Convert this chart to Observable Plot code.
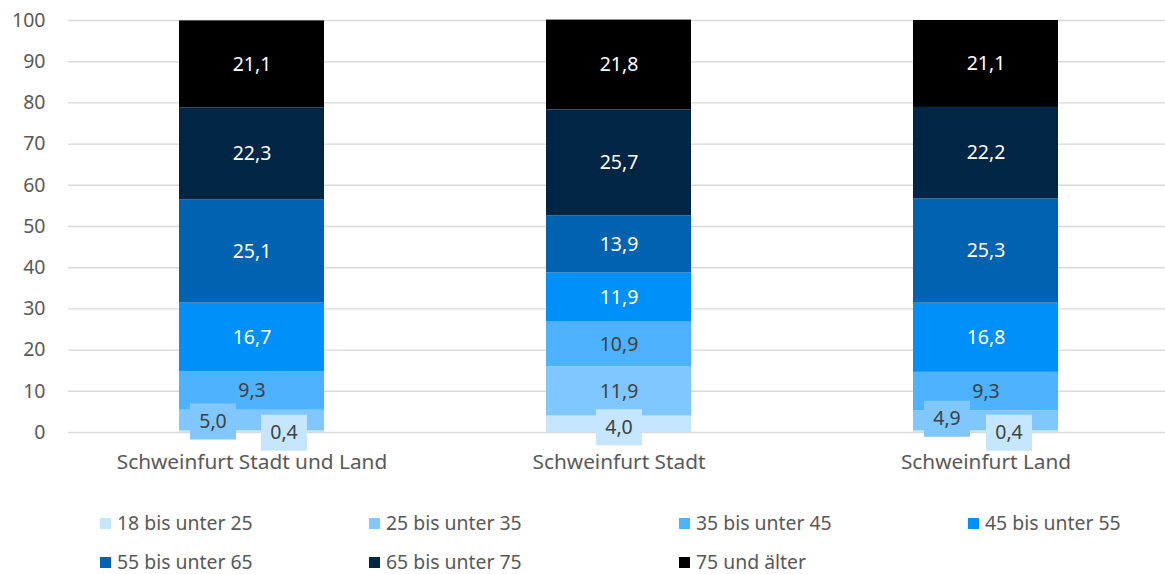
<!DOCTYPE html>
<html><head><meta charset="utf-8">
<script src="https://cdn.jsdelivr.net/npm/d3@7"></script>
<script src="https://cdn.jsdelivr.net/npm/@observablehq/plot@0.6"></script>
<style>
body{margin:0;background:#fff;font-family:"Noto Sans",sans-serif;}
#legend{position:relative;height:84px;width:1165px;}
.item{position:absolute;display:flex;align-items:center;font-size:19.4px;color:#595959;white-space:nowrap;line-height:1;}
.sw{width:11px;height:11px;margin-right:6px;flex:none;}
</style>
</head><body>
<div id="chart"></div>
<div id="legend"></div>
<script>
const categories = ["Schweinfurt Stadt und Land", "Schweinfurt Stadt", "Schweinfurt Land"];
const groups = ["18 bis unter 25", "25 bis unter 35", "35 bis unter 45", "45 bis unter 55", "55 bis unter 65", "65 bis unter 75", "75 und älter"];
const valuesStadtUndLand = [0.4, 5.0, 9.3, 16.7, 25.1, 22.3, 21.1];
const valuesStadt = [4.0, 11.9, 10.9, 11.9, 13.9, 25.7, 21.8];
const valuesLand = [0.4, 4.9, 9.3, 16.8, 25.3, 22.2, 21.1];
const yTicks = [0, 10, 20, 30, 40, 50, 60, 70, 80, 90, 100];

const colors = ["#c6e6ff", "#80c6ff", "#4db2ff", "#0090fa", "#0062b0", "#002545", "#000000"];
const darkText = new Set(groups.slice(0, 3));

const series = [valuesStadtUndLand, valuesStadt, valuesLand];
const rows = [];
categories.forEach((cat, ci) => {
  let acc = 0;
  series[ci].forEach((v, gi) => {
    rows.push({cat, group: groups[gi], value: v, y1: acc, y2: acc + v, mid: acc + v / 2,
      label: v.toFixed(1).replace(".", ",")});
    acc += v;
  });
});

// labels that Excel moved into boxes (pixel nudges)
const nudges = [
  {cat: categories[0], group: groups[1], dx: -39, dy: 1},
  {cat: categories[0], group: groups[0], dx: 32, dy: 1},
  {cat: categories[1], group: groups[0], dx: 0, dy: 3},
  {cat: categories[2], group: groups[1], dx: -39, dy: -2},
  {cat: categories[2], group: groups[0], dx: 23, dy: 1}
];
const isNudged = d => nudges.some(n => n.cat === d.cat && n.group === d.group);

const boxSymbol = {draw(ctx) { ctx.rect(-23, -18, 46, 36); }};

const boxedMarks = nudges.flatMap(n => {
  const d = rows.filter(r => r.cat === n.cat && r.group === n.group);
  return [
    Plot.dot(d, {x: "cat", y: "mid", fill: "group", symbol: boxSymbol, r: 5, dx: n.dx, dy: n.dy, stroke: null}),
    Plot.text(d, {x: "cat", y: "mid", text: "label", dx: n.dx, dy: n.dy, fill: "#404040", fontSize: 19.5})
  ];
});

const chart = Plot.plot({
  width: 1165,
  height: 490,
  marginTop: 20,
  marginBottom: 58,
  marginLeft: 68,
  marginRight: 0,
  style: {fontFamily: "'Noto Sans', sans-serif", fontSize: "19px", color: "#595959", background: "#fff"},
  x: {domain: categories, range: [67.5, 1168.5], paddingInner: 0.605, paddingOuter: 0.3025, label: null},
  y: {domain: [0, 100], label: null},
  color: {domain: groups, range: colors},
  marks: [
    Plot.ruleY(yTicks, {stroke: "#d9d9d9", strokeWidth: 1.4}),
    Plot.axisY({ticks: yTicks, tickSize: 0, tickPadding: 23, tickFormat: d => String(d), fill: "#595959", fontSize: 19.5}),
    Plot.axisX({tickSize: 0, tickPadding: 22, fill: "#595959", fontSize: 20.8}),
    Plot.rectY(rows, {x: "cat", y1: "y1", y2: "y2", fill: "group"}),
    Plot.text(rows.filter(d => !isNudged(d)), {x: "cat", y: "mid", text: "label", fontSize: 19.5,
      fill: d => darkText.has(d.group) ? "#404040" : "#ffffff"}),
    ...boxedMarks
  ]
});
document.getElementById("chart").appendChild(chart);

// legend
const legendPos = [[100, 33], [369, 33], [679, 33], [968, 33], [100, 72], [369, 72], [679, 72]];
const legend = document.getElementById("legend");
groups.forEach((g, i) => {
  const item = document.createElement("div");
  item.className = "item";
  item.style.left = legendPos[i][0] + "px";
  item.style.top = (legendPos[i][1] - 11) + "px";
  item.style.height = "22px";
  const sw = document.createElement("span");
  sw.className = "sw";
  sw.style.background = colors[i];
  const t = document.createElement("span");
  t.textContent = g;
  item.append(sw, t);
  legend.appendChild(item);
});
</script>
</body></html>
